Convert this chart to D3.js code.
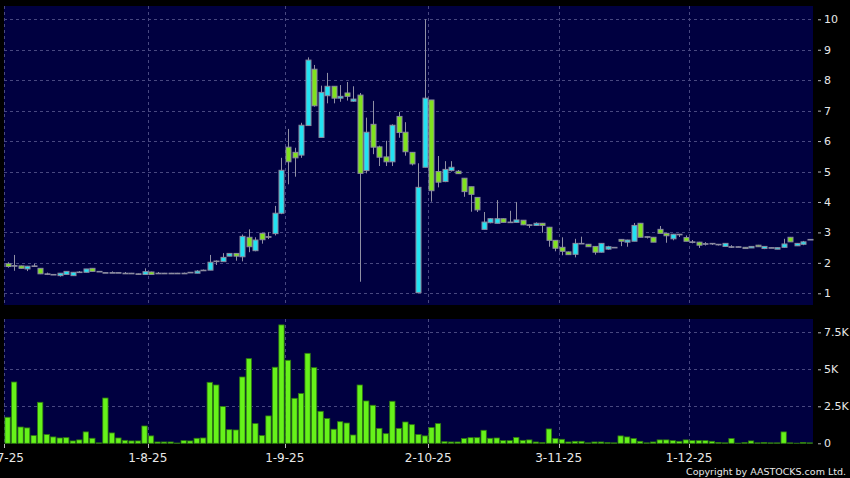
<!DOCTYPE html>
<html>
<head>
<meta charset="utf-8">
<script src="https://cdn.jsdelivr.net/npm/d3@7"></script>
<style>
  body { margin: 0; background: #000; }
  svg { display: block; font-family: "DejaVu Sans", sans-serif; }
</style>
</head>
<body>
<svg id="chart"></svg>
<script>
const width = 850;
const height = 478;

// trading days (d-m-yy)
const dates = [
  '2-7-25','3-7-25','4-7-25','7-7-25','8-7-25','9-7-25','10-7-25','11-7-25','14-7-25','15-7-25','16-7-25',
  '17-7-25','18-7-25','21-7-25','22-7-25','23-7-25','24-7-25','25-7-25','28-7-25','29-7-25','30-7-25','31-7-25',
  '1-8-25','4-8-25','5-8-25','6-8-25','7-8-25','8-8-25','11-8-25','12-8-25','13-8-25','14-8-25','15-8-25',
  '18-8-25','19-8-25','20-8-25','21-8-25','22-8-25','25-8-25','26-8-25','27-8-25','28-8-25','29-8-25',
  '1-9-25','2-9-25','3-9-25','4-9-25','5-9-25','8-9-25','9-9-25','10-9-25','11-9-25','12-9-25','15-9-25',
  '16-9-25','17-9-25','18-9-25','19-9-25','22-9-25','23-9-25','24-9-25','25-9-25','26-9-25','29-9-25','30-9-25',
  '2-10-25','3-10-25','6-10-25','8-10-25','9-10-25','10-10-25','13-10-25','14-10-25','15-10-25','16-10-25',
  '17-10-25','20-10-25','21-10-25','22-10-25','23-10-25','24-10-25','27-10-25','28-10-25','30-10-25','31-10-25',
  '3-11-25','4-11-25','5-11-25','6-11-25','7-11-25','10-11-25','11-11-25','12-11-25','13-11-25','14-11-25',
  '17-11-25','18-11-25','19-11-25','20-11-25','21-11-25','24-11-25','25-11-25','26-11-25','27-11-25','28-11-25',
  '1-12-25','2-12-25','3-12-25','4-12-25','5-12-25','8-12-25','9-12-25','10-12-25','11-12-25','12-12-25',
  '15-12-25','16-12-25','17-12-25','18-12-25','19-12-25','22-12-25','23-12-25','24-12-25','29-12-25'
];

const open = [
  1.97,1.91,1.90,1.80,1.90,1.82,1.64,1.62,1.58,1.62,1.58,1.70,1.69,1.82,1.72,1.68,1.68,1.68,1.66,1.66,1.64,1.62,
  1.70,1.66,1.66,1.66,1.66,1.66,1.69,1.66,1.76,1.76,2.06,2.04,2.22,2.31,2.20,2.84,2.40,2.97,2.86,2.96,3.63,
  5.80,5.63,5.54,6.51,8.36,6.12,7.49,7.80,7.41,7.58,7.31,7.51,5.03,6.55,5.81,5.48,5.32,6.81,6.29,5.63,1.02,5.14,
  7.35,5.00,4.67,5.03,5.01,4.78,4.50,4.15,3.10,3.32,3.30,3.45,3.34,3.33,3.40,3.25,3.23,3.30,3.17,2.74,
  2.51,2.36,2.28,2.64,2.61,2.54,2.35,2.45,2.51,2.77,2.68,2.71,3.30,2.86,2.84,3.10,2.97,2.79,2.94,2.83,
  2.69,2.68,2.63,2.64,2.61,2.54,2.53,2.53,2.51,2.49,2.58,2.47,2.50,2.45,2.51,2.84,2.56,2.61,2.77
];
const high = [
  2.02,2.26,1.91,1.90,1.97,1.82,1.68,1.63,1.66,1.72,1.69,1.73,1.80,1.82,1.73,1.69,1.72,1.69,1.70,1.67,1.65,1.82,
  1.71,1.70,1.67,1.67,1.67,1.68,1.70,1.76,1.78,2.26,2.08,2.32,2.31,2.31,2.93,3.10,2.84,2.98,3.01,3.87,5.45,
  6.40,5.78,6.60,8.75,8.50,7.82,8.24,7.80,7.84,7.94,7.80,7.58,6.77,7.32,5.85,6.01,6.55,6.96,6.62,5.63,5.27,10.0,
  7.35,5.51,5.34,5.34,5.05,4.78,4.50,4.15,3.67,3.47,4.06,3.46,3.71,4.00,3.40,3.26,3.33,3.31,3.18,2.75,
  2.84,2.37,2.79,2.86,2.62,2.55,2.65,2.56,2.52,2.78,2.76,3.31,3.31,2.87,2.85,3.21,2.98,2.95,2.95,2.90,
  2.75,2.69,2.68,2.65,2.62,2.65,2.58,2.54,2.52,2.55,2.59,2.55,2.51,2.51,2.79,2.85,2.65,2.72,2.78
];
const low = [
  1.84,1.74,1.81,1.73,1.89,1.63,1.60,1.61,1.55,1.62,1.58,1.67,1.69,1.72,1.71,1.67,1.67,1.67,1.66,1.65,1.61,1.62,
  1.62,1.64,1.66,1.65,1.65,1.65,1.68,1.66,1.74,1.76,1.93,2.04,2.22,2.07,2.05,2.35,2.38,2.63,2.78,2.90,3.60,
  4.58,4.83,5.45,6.51,7.13,6.12,7.24,7.24,7.29,7.33,7.29,1.38,4.94,5.57,5.18,5.18,5.18,6.11,5.52,5.20,1.02,5.14,
  4.01,4.48,4.65,5.00,4.92,4.17,3.68,3.67,3.10,3.30,3.30,3.33,3.33,3.32,3.24,3.15,3.22,2.99,2.53,2.38,
  2.25,2.27,2.18,2.63,2.53,2.27,2.34,2.43,2.50,2.55,2.53,2.71,2.84,2.80,2.68,2.97,2.66,2.74,2.85,2.71,
  2.64,2.49,2.57,2.59,2.57,2.54,2.49,2.52,2.47,2.49,2.53,2.45,2.49,2.45,2.50,2.69,2.56,2.58,2.76
];
const close = [
  1.88,1.91,1.82,1.89,1.90,1.64,1.64,1.62,1.66,1.72,1.69,1.70,1.80,1.72,1.72,1.68,1.68,1.68,1.66,1.66,1.64,1.71,
  1.62,1.66,1.66,1.66,1.66,1.66,1.69,1.73,1.76,2.02,2.06,2.18,2.31,2.22,2.87,2.53,2.75,2.76,2.86,3.63,5.04,
  5.32,5.45,6.52,8.66,7.16,7.60,7.80,7.41,7.47,7.47,7.38,4.94,6.29,5.80,5.47,5.32,6.52,6.28,5.65,5.25,4.48,7.41,
  4.37,4.65,5.07,5.14,4.93,4.34,4.25,3.74,3.34,3.45,3.45,3.33,3.34,3.41,3.25,3.25,3.30,3.23,2.74,2.48,
  2.38,2.27,2.64,2.64,2.53,2.35,2.64,2.53,2.51,2.71,2.75,3.23,2.84,2.86,2.68,2.97,2.89,2.94,2.94,2.71,
  2.69,2.58,2.63,2.64,2.61,2.64,2.53,2.53,2.47,2.54,2.53,2.54,2.50,2.50,2.62,2.69,2.64,2.69,2.77
];
const volume = [
  1760,4140,1100,1040,520,2770,590,430,360,380,160,230,770,340,30,3060,700,360,200,160,160,1170,
  500,90,90,90,20,180,160,340,360,4120,3940,2480,920,900,4480,5720,1330,520,1850,5140,8000,
  5610,3040,3360,6080,5110,2160,1670,950,1460,1370,560,3940,2860,2570,1010,650,2840,1010,1440,1260,590,500,
  1060,1330,110,90,90,320,380,380,880,340,360,180,180,400,200,230,90,45,970,320,
  270,90,135,135,30,90,90,45,30,500,430,320,135,30,90,230,230,180,135,230,
  180,180,180,135,60,30,320,10,45,160,30,60,30,30,770,30,10,60,30
];

const dateTicks = ['2-7-25','1-8-25','1-9-25','2-10-25','3-11-25','1-12-25'];
const priceTicks = [1,2,3,4,5,6,7,8,9,10];
const volumeTicks = [0,2500,5000,7500];

const left = 4.3, right = 813;
const priceTop = 6, priceBottom = 305;
const volTop = 319, volBottom = 443.3;

const svg = d3.select('#chart')
  .attr('width', width)
  .attr('height', height)
  .style('background', '#000');

const x = d3.scaleBand().domain(dates).range([left, right]).padding(0);
const yPrice = d3.scaleLinear().domain([1, 10]).range([293.3, 19.3]);
const yVol = d3.scaleLinear().domain([0, 7500]).range([volBottom, 332.3]);

const gridColor = '#484880';
const textColor = '#e8e8e8';

// panels
svg.append('rect').attr('x', 4).attr('y', priceTop)
  .attr('width', right - 4).attr('height', priceBottom - priceTop).attr('fill', '#000040');
svg.append('rect').attr('x', 4).attr('y', volTop)
  .attr('width', right - 4).attr('height', volBottom - volTop).attr('fill', '#000040');

// grid
const grid = svg.append('g')
  .attr('stroke', gridColor).attr('stroke-width', 1).attr('stroke-dasharray', '3,3');

grid.selectAll('.hp').data(priceTicks).enter().append('line')
  .attr('x1', 4).attr('x2', right)
  .attr('y1', d => Math.round(yPrice(d)) + 0.5).attr('y2', d => Math.round(yPrice(d)) + 0.5);

grid.selectAll('.hv').data(volumeTicks.filter(d => d > 0)).enter().append('line')
  .attr('x1', 4).attr('x2', right)
  .attr('y1', d => Math.round(yVol(d)) + 0.5).attr('y2', d => Math.round(yVol(d)) + 0.5);

[[priceTop, priceBottom], [volTop, volBottom]].forEach(([t, b]) => {
  grid.append('g').selectAll('line').data(dateTicks).enter().append('line')
    .attr('x1', d => Math.round(x(d)) + 0.5).attr('x2', d => Math.round(x(d)) + 0.5)
    .attr('y1', t).attr('y2', b);
});

// candles
const candles = dates.map((d, i) => ({date: d, o: open[i], h: high[i], l: low[i], c: close[i], v: volume[i]}));
const cx = d => x(d.date) + x.bandwidth() / 2;

const candleG = svg.append('g');
candleG.selectAll('.wick').data(candles).enter().append('line')
  .attr('x1', d => Math.round(cx(d)) + 0.5).attr('x2', d => Math.round(cx(d)) + 0.5)
  .attr('y1', d => yPrice(d.h)).attr('y2', d => yPrice(d.l))
  .attr('stroke', '#9090a4').attr('stroke-width', 1);

candleG.selectAll('.body').data(candles).enter().append('rect')
  .attr('x', d => Math.round(cx(d)) - 2)
  .attr('width', 5)
  .attr('y', d => yPrice(Math.max(d.o, d.c)))
  .attr('height', d => Math.max(0.6, Math.abs(yPrice(d.o) - yPrice(d.c))))
  .attr('fill', d => d.c > d.o ? '#22e2f2' : d.c < d.o ? '#80e21e' : '#9090a4')
  .attr('stroke', '#8c8ca0').attr('stroke-width', 1);

// volume bars
svg.append('g').selectAll('rect').data(candles).enter().append('rect')
  .attr('x', d => x(d.date) + 0.6)
  .attr('width', x.bandwidth() - 1.2)
  .attr('y', d => yVol(d.v))
  .attr('height', d => volBottom - yVol(d.v))
  .attr('fill', '#66f21a').attr('stroke', '#2f7a10').attr('stroke-width', 0.8);

// right axes
const priceAxis = svg.append('g').attr('transform', 'translate(818,0)')
  .call(d3.axisRight(yPrice).tickValues(priceTicks).tickSize(3).tickPadding(3).tickFormat(d3.format('d')));
const volAxis = svg.append('g').attr('transform', 'translate(818,0)')
  .call(d3.axisRight(yVol).tickValues(volumeTicks).tickSize(3).tickPadding(3)
    .tickFormat(d => d === 0 ? '0' : (d / 1000) + 'K'));

[priceAxis, volAxis].forEach(g => {
  g.select('.domain').remove();
  g.selectAll('.tick line').attr('stroke', '#bbbbbb');
  g.selectAll('.tick text').attr('fill', textColor)
    .style('font-family', '"DejaVu Sans", sans-serif').style('font-size', '11px');
});

// bottom date labels
const xLabels = svg.append('g');
xLabels.selectAll('line').data(dateTicks).enter().append('line')
  .attr('x1', d => Math.round(x(d)) + 0.5).attr('x2', d => Math.round(x(d)) + 0.5)
  .attr('y1', 444).attr('y2', 448)
  .attr('stroke', '#bbbbbb');
xLabels.selectAll('text').data(dateTicks).enter().append('text')
  .attr('x', d => x(d))
  .attr('y', 461.5)
  .attr('text-anchor', 'middle')
  .attr('fill', textColor)
  .style('font-size', '12px')
  .text(d => d);

svg.append('text')
  .attr('x', 846).attr('y', 474.5)
  .attr('text-anchor', 'end')
  .attr('fill', textColor)
  .style('font-size', '9.5px')
  .text('Copyright by AASTOCKS.com Ltd.');
</script>
</body>
</html>
